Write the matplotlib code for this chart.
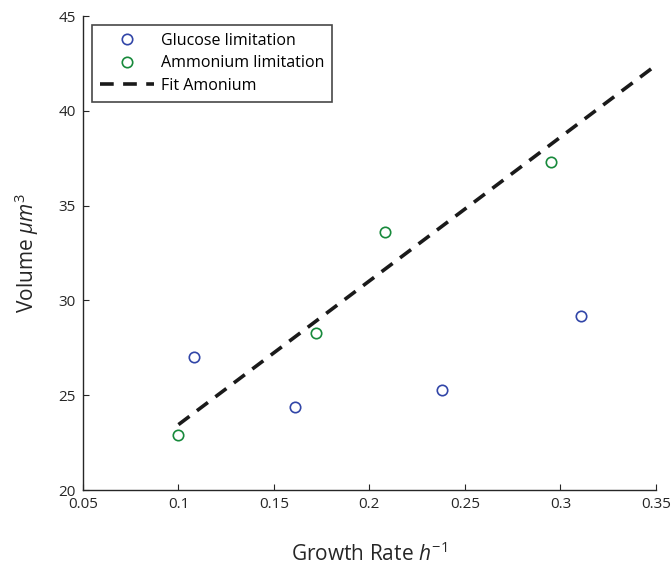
import matplotlib
matplotlib.use("Agg")
import matplotlib.pyplot as plt

plt.rcParams['font.family'] = ['Open Sans', 'DejaVu Sans']
plt.rcParams['mathtext.fontset'] = 'custom'
plt.rcParams['mathtext.it'] = 'Open Sans:italic'
plt.rcParams['mathtext.rm'] = 'Open Sans'

glucose_x = [0.108, 0.161, 0.238, 0.311]
glucose_y = [27.0, 24.4, 25.3, 29.2]
ammonium_x = [0.100, 0.172, 0.208, 0.295]
ammonium_y = [22.9, 28.3, 33.6, 37.3]
fit_x = [0.10, 0.35]
fit_y = [23.45, 42.4]

xticks = [0.05, 0.1, 0.15, 0.2, 0.25, 0.3, 0.35]
xticklabels = ['0.05', '0.1', '0.15', '0.2', '0.25', '0.3', '0.35']
yticks = [20, 25, 30, 35, 40, 45]

fig = plt.figure(figsize=(6.72, 5.68), dpi=100)
ax = fig.add_axes([0.1235, 0.1373, 0.8525, 0.8345])

ax.plot(glucose_x, glucose_y, 'o', mfc='none', mec='#3246a8', mew=1.2, ms=7.5,
        label='Glucose limitation')
ax.plot(ammonium_x, ammonium_y, 'o', mfc='none', mec='#188a3c', mew=1.2, ms=7.5,
        label='Ammonium limitation')
ax.plot(fit_x, fit_y, '--', color='#1a1a1a', lw=2.6, dashes=(3.8, 2.6), label='Fit Amonium')

ax.set_xlim(0.05, 0.35)
ax.set_ylim(20, 45)
ax.set_xticks(xticks)
ax.set_xticklabels(xticklabels)
ax.set_yticks(yticks)
ax.tick_params(direction='in', length=4, labelsize=11, colors='#262626', pad=5)
for s in ['top', 'right']:
    ax.spines[s].set_visible(False)
for s in ['left', 'bottom']:
    ax.spines[s].set_color('#262626')
    ax.spines[s].set_linewidth(1.0)

ax.set_xlabel(r'Growth Rate $h^{-1}$', fontsize=15, labelpad=22, color='#262626')
ax.set_ylabel(r'Volume $\mu m^3$', fontsize=15, labelpad=13, color='#262626')

leg = ax.legend(loc='upper left', bbox_to_anchor=(0.016, 0.982), fontsize=11.5,
                frameon=True, fancybox=False, edgecolor='#1a1a1a', borderpad=0.5,
                handlelength=3.4, handletextpad=0.4, labelspacing=0.42, borderaxespad=0)
leg.get_frame().set_linewidth(1.2)

fig.savefig('out.png', dpi=100)
